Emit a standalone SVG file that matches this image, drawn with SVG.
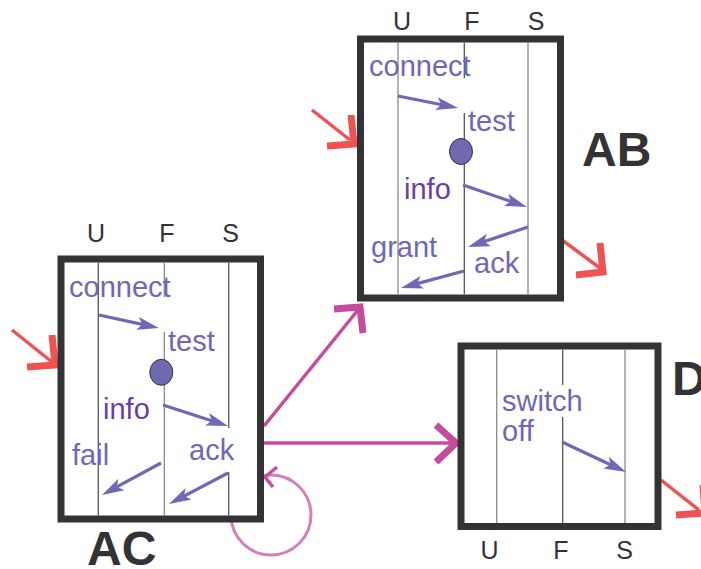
<svg xmlns="http://www.w3.org/2000/svg" width="701" height="569" viewBox="0 0 701 569">
<style>
.box{fill:#fff;stroke:#333336;stroke-width:7}
.ln{stroke:#555;stroke-width:1.3;fill:none}
.lg{stroke:#8a8a8a;stroke-width:1.3;fill:none}
.lbl{font-family:"Liberation Sans",Arial,sans-serif;font-size:29px;fill:#6e68b6}
.info{fill:#6b3fa0}
.col{font-family:"Liberation Sans",Arial,sans-serif;font-size:25px;fill:#333336;text-anchor:middle}
.big{font-family:"Liberation Sans",Arial,sans-serif;font-size:48px;font-weight:bold;fill:#333336}
.msg{stroke:#6e68b6;stroke-width:3.2;fill:none;marker-end:url(#ah)}
.dot{fill:#6f69b0;stroke:#333;stroke-width:1}
.red{stroke:#f05252;fill:none}
.mag{stroke:#c54b9c;fill:none}
</style>
<defs>
<marker id="ah" markerUnits="userSpaceOnUse" markerWidth="24" markerHeight="16" viewBox="0 0 24 16" refX="12" refY="8" orient="auto">
<path d="M0,1.5 L22,8 L0,14.5 L5,8 Z" fill="#6e68b6"/>
</marker>
</defs>
<g id="connectors">
<circle cx="271" cy="515" r="40" fill="none" stroke="#d27fbe" stroke-width="3"/>
<polyline points="277,467 265,477 273,487" fill="none" stroke="#c8509f" stroke-width="3.5"/>
<line class="mag" x1="264" y1="426" x2="358" y2="310" stroke-width="3.5"/>
<polyline class="mag" points="334,309 360,307 363,333" stroke-width="7"/>
<line class="mag" x1="264" y1="443" x2="454" y2="443" stroke-width="3.5"/>
<polyline class="mag" points="436,425 456,443 436,462" stroke-width="7"/>
<line class="red" x1="12" y1="330" x2="52" y2="362" stroke-width="3.5"/>
<polyline class="red" points="52,335 55,365 27,367" stroke-width="7"/>
<line class="red" x1="312" y1="110" x2="350" y2="140" stroke-width="3.5"/>
<polyline class="red" points="351,115 354,144 327,146" stroke-width="7"/>
<line class="red" x1="562" y1="240" x2="600" y2="268" stroke-width="3.5"/>
<polyline class="red" points="600,243 603,272 576,275" stroke-width="7"/>
<line class="red" x1="661" y1="480" x2="699" y2="510" stroke-width="3.5"/>
<polyline class="red" points="703,485 705,513 676,515" stroke-width="7"/>
</g>
<g id="AB">
<rect class="box" x="360.5" y="39" width="200" height="259"/>
<line class="lg" x1="398" y1="42.5" x2="398" y2="294.5"/>
<path class="ln" d="M464.3,42.5 V78 M464.3,113 V294.5"/>
<line class="lg" x1="528" y1="42.5" x2="528" y2="294.5"/>
<text class="col" x="402" y="30">U</text>
<text class="col" x="472" y="30">F</text>
<text class="col" x="536" y="30">S</text>
<text class="lbl" x="369" y="76">connect</text>
<text class="lbl" x="468" y="131">test</text>
<ellipse class="dot" cx="461" cy="151.5" rx="11.5" ry="13"/>
<text class="lbl info" x="404" y="199">info</text>
<text class="lbl" x="371" y="257">grant</text>
<text class="lbl" x="474" y="273">ack</text>
<line class="msg" x1="398" y1="96" x2="448.2" y2="106"/>
<line class="msg" x1="463" y1="185" x2="517.5" y2="203.7"/>
<line class="msg" x1="528" y1="227" x2="477.5" y2="243.8"/>
<line class="msg" x1="464" y1="271" x2="410.6" y2="285.4"/>
<text class="big" x="582" y="166">AB</text>
</g>
<g id="AC">
<rect class="box" x="61" y="259" width="199.5" height="260"/>
<line class="ln" x1="98.3" y1="262.5" x2="98.3" y2="515.5"/>
<path class="lg" d="M164.3,262.5 V297 M164.3,332 V515.5"/>
<path class="ln" d="M228.7,262.5 V428 M228.7,472 V515.5"/>
<text class="col" x="96" y="242">U</text>
<text class="col" x="167" y="242">F</text>
<text class="col" x="230.5" y="242">S</text>
<text class="lbl" x="69" y="297">connect</text>
<text class="lbl" x="168" y="351">test</text>
<ellipse class="dot" cx="161.3" cy="372.3" rx="11.5" ry="13"/>
<text class="lbl info" x="103" y="419">info</text>
<text class="lbl" x="72" y="465">fail</text>
<text class="lbl" x="189" y="460">ack</text>
<line class="msg" x1="99" y1="315" x2="149.2" y2="325.9"/>
<line class="msg" x1="163" y1="405" x2="218.5" y2="422.9"/>
<line class="msg" x1="161" y1="463" x2="110.8" y2="490.2"/>
<line class="msg" x1="228" y1="473" x2="177.9" y2="499.3"/>
<text class="big" x="87" y="565">AC</text>
</g>
<g id="D">
<rect class="box" x="461" y="346" width="197" height="180.5"/>
<line class="lg" x1="496.7" y1="349.5" x2="496.7" y2="523"/>
<path class="ln" d="M562.7,349.5 V385 M562.7,417 V523"/>
<line class="lg" x1="625" y1="349.5" x2="625" y2="523"/>
<text class="col" x="489.5" y="559">U</text>
<text class="col" x="561" y="559">F</text>
<text class="col" x="624.5" y="559">S</text>
<text class="lbl" x="502" y="411">switch</text>
<text class="lbl" x="502" y="441">off</text>
<line class="msg" x1="562" y1="442" x2="617" y2="467.8"/>
<text class="big" x="672" y="395">D</text>
</g>
</svg>
